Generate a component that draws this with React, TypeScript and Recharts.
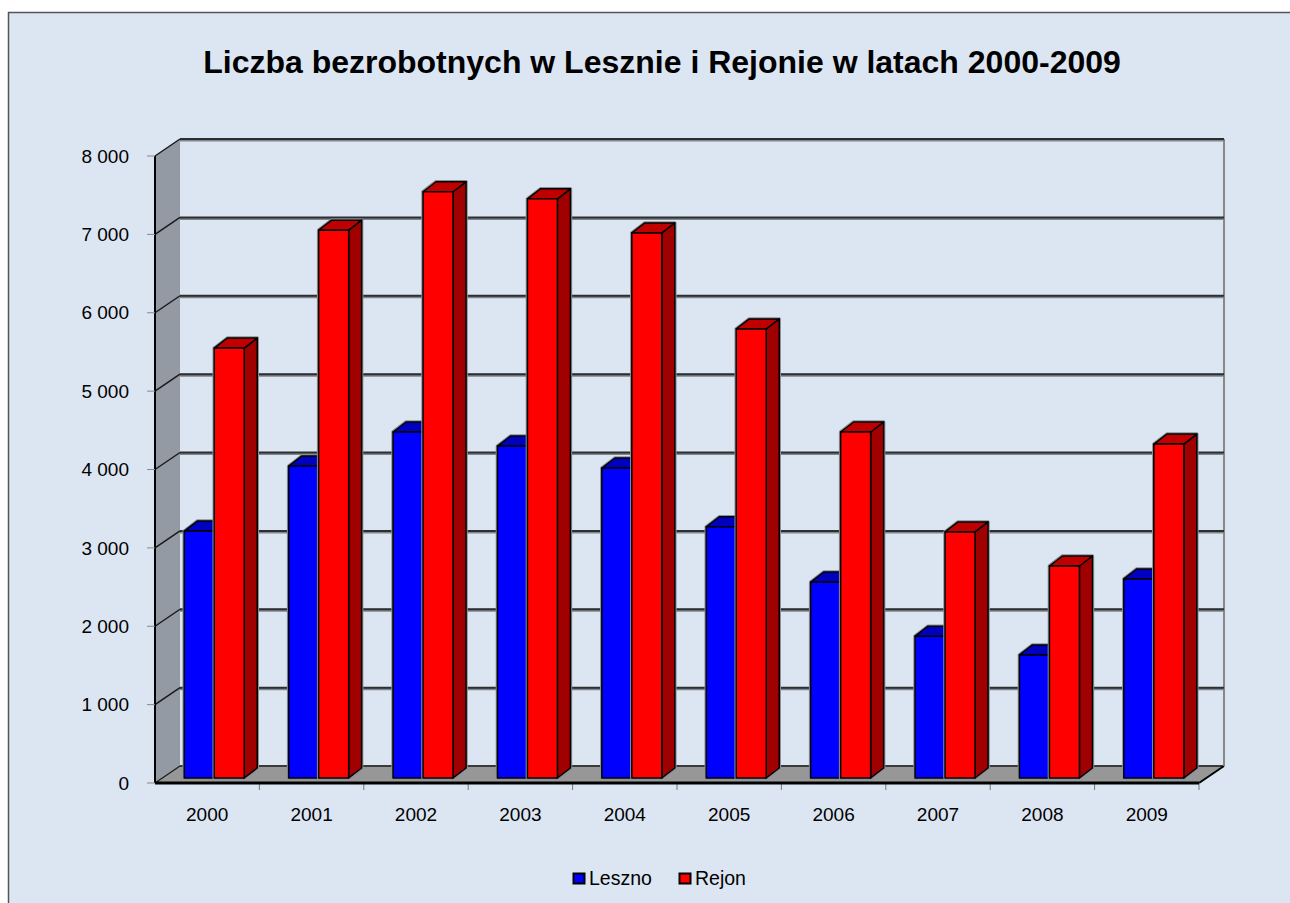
import React from "react";
import { BarChart, Bar, XAxis, YAxis } from "recharts";

const years = ["2000", "2001", "2002", "2003", "2004", "2005", "2006", "2007", "2008", "2009"];
const leszno = [3150, 3980, 4415, 4235, 3955, 3205, 2500, 1810, 1570, 2540];
const rejon = [5485, 6990, 7480, 7390, 6955, 5730, 4415, 3140, 2705, 4260];
const yTicks = [0, 1000, 2000, 3000, 4000, 5000, 6000, 7000, 8000];

const data = years.map((year, i) => ({ year, leszno: leszno[i], rejon: rejon[i] }));

const FONT = '"Liberation Sans", Arial, sans-serif';
const W = 1290;
const H = 903;
// front plane of the plot
const FL = 155;
const FR = 1199;
const FT = 156;
const FB = 783;
// depth of the box (front -> back wall)
const DX = 25;
const DY = -17;
const Y_MAX = 8000;
const yAt = (v: number) => FB - (v / Y_MAX) * (FB - FT);

const fmt = (v: number) => (v === 0 ? "0" : `${v / 1000} 000`);

// bars sit a bit behind the front plane and have their own depth
const BX = 7;
const BY = -5;
const DDX = 13;
const DDY = -10;

const makeShape = (front: string, top: string, side: string) => (props: any) => {
  const { x, y, width, height } = props;
  if (width == null || height == null) return null;
  const x0 = x + BX;
  const y0 = y + BY;
  const x1 = x0 + width;
  const y1 = y0 + height;
  const stroke = { stroke: "#000", strokeWidth: 1.5, strokeLinejoin: "round" as const };
  const outline = `${x0},${y1} ${x0},${y0} ${x0 + DDX},${y0 + DDY} ${x1 + DDX},${y0 + DDY} ${x1 + DDX},${y1 + DDY} ${x1},${y1}`;
  return (
    <g>
      <polygon points={outline} fill="none" stroke="#8a9099" strokeWidth={3.5} strokeLinejoin="round" />
      <polygon
        points={`${x1},${y0} ${x1 + DDX},${y0 + DDY} ${x1 + DDX},${y1 + DDY} ${x1},${y1}`}
        fill={side}
        {...stroke}
      />
      <polygon
        points={`${x0},${y0} ${x0 + DDX},${y0 + DDY} ${x1 + DDX},${y0 + DDY} ${x1},${y0}`}
        fill={top}
        {...stroke}
      />
      <rect x={x0} y={y0} width={width} height={height} fill={front} {...stroke} />
    </g>
  );
};

const blueShape = makeShape("#0000ff", "#0000bf", "#00008c");
const redShape = makeShape("#ff0000", "#c00000", "#a00000");

function Backdrop() {
  const cat = (FR - FL) / years.length;
  return (
    <svg width={W} height={H} style={{ position: "absolute", left: 0, top: 0 }}>
      <rect x={0} y={0} width={W} height={H} fill="#ffffff" />
      <rect x={8.5} y={12.5} width={W + 20} height={H + 20} fill="#dce6f2" stroke="#555" strokeWidth={1.5} />
      <text x={662} y={73} textAnchor="middle" fontFamily={FONT} fontWeight="bold" fontSize={32} fill="#000">
        Liczba bezrobotnych w Lesznie i Rejonie w latach 2000-2009
      </text>

      {/* left wall */}
      <polygon
        points={`${FL},${FT} ${FL + DX},${FT + DY} ${FL + DX},${FB + DY} ${FL},${FB}`}
        fill="#939aa3"
      />
      {/* floor */}
      <polygon
        points={`${FL},${FB} ${FL + DX},${FB + DY} ${FR + DX},${FB + DY} ${FR},${FB}`}
        fill="#979797"
      />
      <line x1={FL + DX} y1={FB + DY} x2={FR + DX} y2={FB + DY} stroke="#3a3a3a" strokeWidth={2} />
      <line x1={FR} y1={FB} x2={FR + DX} y2={FB + DY} stroke="#000" strokeWidth={2} />
      <line x1={FL} y1={FB} x2={FL + DX} y2={FB + DY} stroke="#222" strokeWidth={1.5} />
      {/* back wall right edge */}
      <line x1={FR + DX} y1={FT + DY} x2={FR + DX} y2={FB + DY} stroke="#888" strokeWidth={2} />

      {yTicks
        .filter((v) => v > 0)
        .map((v) => {
          const y = yAt(v);
          return (
            <g key={v}>
              <line x1={FL + DX} y1={y + DY + 1} x2={FR + DX} y2={y + DY + 1} stroke="#7d858e" strokeWidth={3} />
              <line x1={FL + DX} y1={y + DY} x2={FR + DX} y2={y + DY} stroke="#2e2e2e" strokeWidth={2} />
              <line x1={FL} y1={y} x2={FL + DX} y2={y + DY} stroke="#1a1a1a" strokeWidth={1.5} />
            </g>
          );
        })}

      {years.map((y, i) => (
        <line key={y} x1={FL + (i + 1) * cat} y1={FB} x2={FL + (i + 1) * cat} y2={FB + 7} stroke="#777" strokeWidth={1} />
      ))}

      {/* legend */}
      <rect x={573.5} y={873.5} width={11} height={10} fill="#0000ff" stroke="#000" strokeWidth={2} />
      <text x={589} y={885} fontFamily={FONT} fontSize={19.5} fill="#000">
        Leszno
      </text>
      <rect x={679.5} y={873.5} width={11} height={10} fill="#ff0000" stroke="#000" strokeWidth={2} />
      <text x={695} y={885} fontFamily={FONT} fontSize={19.5} fill="#000">
        Rejon
      </text>
    </svg>
  );
}

export default function App() {
  const xAxisHeight = 40;
  const yAxisWidth = 80;
  return (
    <div style={{ position: "absolute", left: 0, top: 0, width: W, height: H, overflow: "hidden" }}>
      <Backdrop />
      <div style={{ position: "absolute", left: 0, top: 0 }}>
        <BarChart
          width={W}
          height={H}
          data={data}
          margin={{ top: FT, right: W - FR, bottom: H - FB - xAxisHeight, left: FL - yAxisWidth }}
          barCategoryGap="21.3%"
          barGap={0}
        >
          <XAxis
            dataKey="year"
            height={xAxisHeight}
            tickLine={false}
            tickSize={0}
            tickMargin={25}
            axisLine={{ stroke: "#000", strokeWidth: 3 }}
            tick={{ fontSize: 19, fill: "#000", fontFamily: FONT }}
          />
          <YAxis
            width={yAxisWidth}
            domain={[0, Y_MAX]}
            ticks={yTicks}
            interval={0}
            tickFormatter={fmt}
            tickSize={8}
            tickMargin={18}
            tickLine={{ stroke: "#888" }}
            axisLine={{ stroke: "#000", strokeWidth: 2 }}
            tick={{ fontSize: 19, fill: "#000", fontFamily: FONT }}
          />
          <Bar dataKey="leszno" fill="#0000ff" shape={blueShape} isAnimationActive={false} />
          <Bar dataKey="rejon" fill="#ff0000" shape={redShape} isAnimationActive={false} />
        </BarChart>
      </div>
    </div>
  );
}
